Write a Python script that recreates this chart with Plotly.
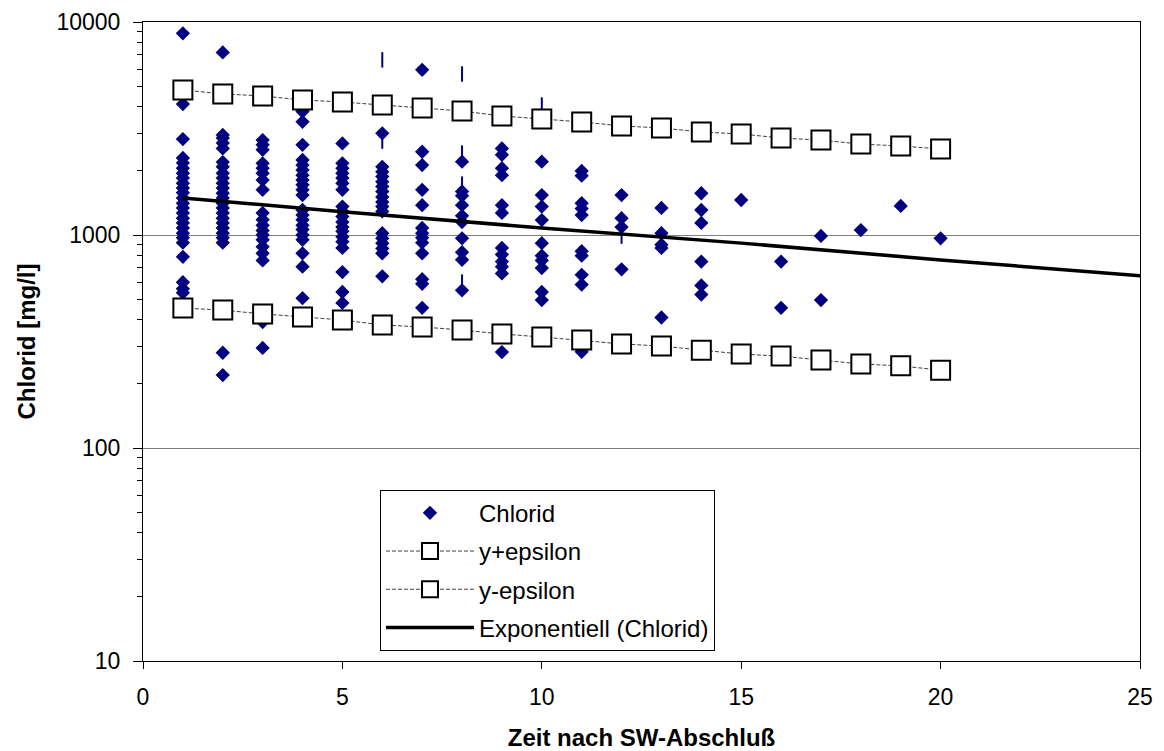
import plotly.graph_objects as go

# ---------------- data ----------------
tag_01 = [8850, 4120, 2820, 2300, 2180, 2060, 1950, 1850, 1750, 1660, 1580, 1490,
          1410, 1340, 1270, 1200, 1140, 1080, 1020, 970, 920, 790, 600, 560, 535]
tag_02 = [7200, 2950, 2850, 2700, 2550, 2200, 2090, 1950, 1850, 1750, 1660, 1570,
          1490, 1410, 1340, 1270, 1200, 1140, 1080, 1020, 970, 920, 280, 220]
tag_03 = [2790, 2650, 2510, 2170, 2060, 1950, 1810, 1630, 1270, 1180, 1110, 1050,
          1000, 950, 880, 820, 760, 390, 295]
tag_04 = [3800, 3400, 2650, 2250, 2130, 2020, 1910, 1810, 1720, 1630, 1540, 1310,
          1240, 1180, 1110, 1060, 1000, 950, 820, 710, 505]
tag_05 = [2690, 2170, 2060, 1950, 1850, 1750, 1630, 1360, 1290, 1220, 1150, 1090,
          1040, 980, 930, 870, 670, 540, 480]
tag_06 = [3000, 2090, 1980, 1880, 1780, 1690, 1600, 1510, 1430, 1360, 1290, 1020,
          965, 915, 865, 820, 640]
tag_07 = [5960, 2460, 2130, 1630, 1380, 1080, 1020, 970, 920, 820, 620, 590, 455]
tag_08 = [2210, 1600, 1530, 1380, 1230, 1150, 965, 830, 765, 550]
tag_09 = [2550, 2380, 2060, 1910, 1380, 1270, 870, 810, 750, 710, 660, 282]
tag_10 = [2210, 1540, 1360, 1175, 915, 800, 760, 700, 540, 495]
tag_11 = [2000, 1900, 1410, 1330, 1240, 840, 800, 650, 585, 283]
tag_12 = [1540, 1200, 1090, 690]
tag_13 = [1340, 1020, 900, 870, 410]
tag_14 = [1570, 1310, 1140, 750, 580, 525]
tag_15 = [1460]
tag_16 = [750, 455]
tag_17 = [990, 495]
tag_18 = [1055]
tag_19 = [1370]
tag_20 = [965]

# small vertical strokes visible in the picture
strich_zeit = [6, 8, 10, 6, 8, 8, 8, 12]
strich_wert = [6640, 5700, 4075, 2760, 2426, 1734, 601, 988]

eps_zeit = list(range(1, 21))
y_plus_eps = [4797, 4596, 4496, 4305, 4210, 4076, 3946, 3820, 3620, 3505,
              3394, 3251, 3180, 3046, 2980, 2853, 2790, 2672, 2617, 2535]
y_minus_eps = [454, 444, 426, 412, 399, 378, 370, 358, 343, 332,
               321, 308, 301, 288, 276, 270, 259, 248, 243, 232]

trend_zeit = [1, 5, 10, 15, 20, 25]
trend_wert = [1493, 1286, 1079, 916, 764, 643]

x_ticks = [0, 5, 10, 15, 20, 25]
y_ticks = [10, 100, 1000, 10000]
y_ticktext = ["10", "100", "1000", "10000"]

# ---------------- build ----------------
tage = [tag_01, tag_02, tag_03, tag_04, tag_05, tag_06, tag_07, tag_08, tag_09, tag_10,
        tag_11, tag_12, tag_13, tag_14, tag_15, tag_16, tag_17, tag_18, tag_19, tag_20]
zeit, chlorid = [], []
for i, werte in enumerate(tage, start=1):
    zeit += [i] * len(werte)
    chlorid += werte

navy = "#000080"
fig = go.Figure()
fig.add_trace(go.Scatter(x=zeit, y=chlorid, mode="markers", name="Chlorid",
                         legendgroup="a",
                         marker=dict(symbol="diamond", size=11, color=navy,
                                     line=dict(width=0))))
fig.add_trace(go.Scatter(x=strich_zeit, y=strich_wert, mode="markers", showlegend=False,
                         marker=dict(symbol="line-ns", size=11,
                                     line=dict(width=2, color=navy))))
fig.add_trace(go.Scatter(x=eps_zeit, y=y_plus_eps, mode="lines+markers", name="y+epsilon",
                         legendgroup="b",
                         line=dict(color="#404040", width=1, dash="4px,2px"),
                         marker=dict(symbol="square", size=19, color="white",
                                     line=dict(color="black", width=2))))
fig.add_trace(go.Scatter(x=eps_zeit, y=y_minus_eps, mode="lines+markers", name="y-epsilon",
                         legendgroup="c",
                         line=dict(color="#404040", width=1, dash="4px,2px"),
                         marker=dict(symbol="square", size=19, color="white",
                                     line=dict(color="black", width=2))))
fig.add_trace(go.Scatter(x=trend_zeit, y=trend_wert, mode="lines",
                         name="Exponentiell (Chlorid)", legendgroup="d",
                         line=dict(color="black", width=3.5)))

minor_vals = [m * 10 ** e for e in (1, 2, 3) for m in range(2, 10)]

fig.update_layout(
    width=1164, height=751,
    margin=dict(l=143, r=24, t=22, b=90, autoexpand=False),
    plot_bgcolor="white", paper_bgcolor="white",
    font=dict(family="Liberation Sans, Arial, sans-serif", size=22, color="black"),
    legend=dict(x=0.2377, y=0.268, xanchor="left", yanchor="top",
                bordercolor="black", borderwidth=1, bgcolor="white",
                itemwidth=88, tracegroupgap=4, font=dict(size=24)),
)
fig.update_xaxes(range=[0, 25], tickvals=x_ticks, ticks="outside", ticklen=7,
                 tickcolor="black", showline=True, linecolor="black", linewidth=1,
                 mirror=True, showgrid=False, zeroline=False, automargin=False,
                 ticklabelstandoff=8, tickfont=dict(size=23),
                 title=dict(text="<b>Zeit nach SW-Abschluß</b>", standoff=22,
                            font=dict(size=24)))
fig.update_yaxes(type="log", range=[1, 4], tickvals=y_ticks, ticktext=y_ticktext,
                 ticks="outside", ticklen=9, tickcolor="black",
                 showline=True, linecolor="black", linewidth=1, mirror=True,
                 showgrid=True, gridcolor="#808080", gridwidth=1, zeroline=False,
                 automargin=False,
                 ticklabelstandoff=8, tickfont=dict(size=23),
                 minor=dict(tickmode="array", tickvals=minor_vals, ticks="outside",
                            ticklen=5, tickcolor="black", showgrid=False),
                 title=dict(text="<b>Chlorid [mg/l]</b>", standoff=14,
                            font=dict(size=24)))

fig.write_html("out.html")
